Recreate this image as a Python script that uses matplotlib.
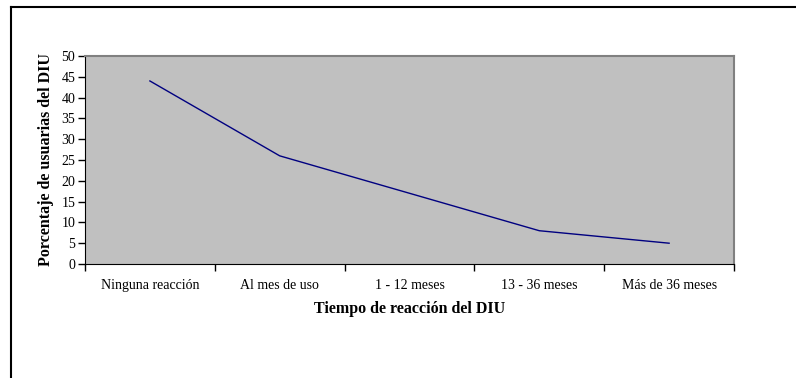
import numpy as np
import matplotlib.pyplot as plt
from matplotlib.lines import Line2D

# datos
categorias = ["Ninguna reacción", "Al mes de uso", "1 - 12 meses", "13 - 36 meses", "Más de 36 meses"]
porcentajes = [44, 26, 17, 8, 5]
yticks = list(range(0, 55, 5))

plt.rcParams['font.family'] = ['Liberation Serif', 'DejaVu Serif']

fig = plt.figure(figsize=(7.96, 3.78), dpi=100)
ax = fig.add_axes([85/796, 1-264/378, (734-85)/796, (264-56)/378])
ax.set_facecolor('#C0C0C0')

x = np.arange(len(categorias))
ax.plot(x, porcentajes, color='#000080', lw=1)

ax.set_xlim(-0.5, len(categorias)-0.5)
ax.set_ylim(0, 50)
ax.set_yticks(yticks)
ax.set_xticks(np.arange(-0.5, len(categorias), 1))
ax.set_xticklabels([])
ax.set_xticks(x, minor=True)
ax.set_xticklabels(categorias, minor=True)
ax.tick_params(axis='x', which='minor', length=0, pad=11, labelsize=10)
ax.tick_params(axis='x', which='major', length=5, width=1, direction='out')
ax.tick_params(axis='y', length=5, width=1, direction='out', labelsize=10, pad=2)

for s in ['top', 'right']:
    ax.spines[s].set_color('#808080')
    ax.spines[s].set_linewidth(1.5)
for s in ['left', 'bottom']:
    ax.spines[s].set_color('black')

ax.set_xlabel("Tiempo de reacción del DIU", fontsize=11.5, fontweight='bold', labelpad=6)
ax.set_ylabel("Porcentaje de usuarias del DIU", fontsize=11.5, fontweight='bold', labelpad=5)

# marco exterior del grafico
fig.add_artist(Line2D([11/796, 1], [1-7/378, 1-7/378], color='black', lw=1.5, transform=fig.transFigure))
fig.add_artist(Line2D([11/796, 11/796], [0, 1-7/378], color='black', lw=1.5, transform=fig.transFigure))

fig.savefig("out.png", dpi=100)
